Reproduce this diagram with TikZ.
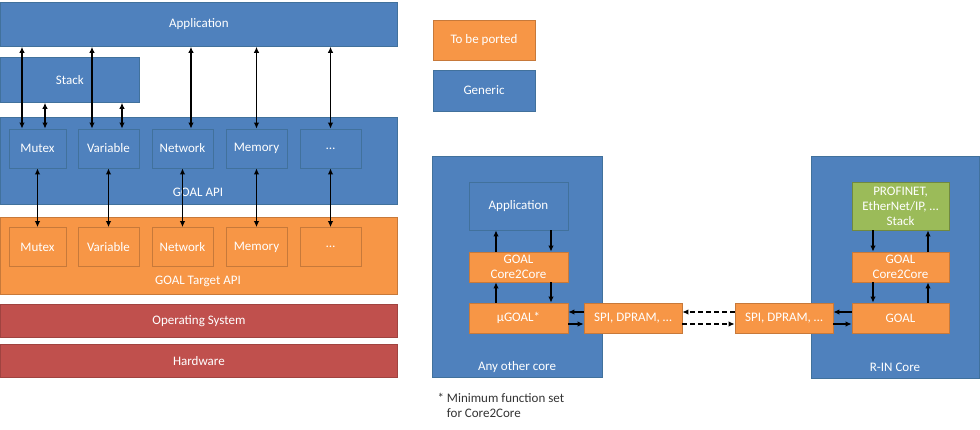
\documentclass[tikz,border=0pt]{standalone}
\usepackage{fontspec}
\setmainfont{Carlito}
\usetikzlibrary{arrows.meta,positioning}

\definecolor{goalblue}{HTML}{4F81BD}
\definecolor{goaledge}{HTML}{41719C}
\definecolor{portorange}{HTML}{F79646}
\definecolor{portedge}{HTML}{C7793A}
\definecolor{sysred}{HTML}{C0504D}
\definecolor{sysedge}{HTML}{A04340}
\definecolor{stackgreen}{HTML}{9BBB59}
\definecolor{stackedge}{HTML}{71893F}

\begin{document}
\begin{tikzpicture}[x=1pt, y=-1pt, node distance=74pt,
                    font=\fontsize{13}{15}\selectfont,
                    box/.style={rectangle, draw, line width=0.8pt, text=white, inner sep=0pt, align=center},
                    generic/.style={box, fill=goalblue, draw=goaledge},
                    ported/.style={box, fill=portorange, draw=portedge},
                    system/.style={box, fill=sysred, draw=sysedge},
                    protocol/.style={box, fill=stackgreen, draw=stackedge},
                    inner/.style={minimum width=61pt, minimum height=39pt},
                    stage/.style={minimum width=99pt, minimum height=30pt},
                    link/.style={{Latex[length=6pt,width=5.5pt]}-{Latex[length=6pt,width=5.5pt]}, line width=1.5pt},
                    flow/.style={-{Latex[length=6pt,width=5.5pt]}, line width=1.5pt},
                    wire/.style={flow, dash pattern=on 5pt off 3pt}]
  \useasboundingbox (0,0) rectangle (980,429);
  % generic layers
  \node[generic, anchor=north west, minimum width=397pt, minimum height=44pt] (app) at (0,2) {Application};
  \node[generic, anchor=north west, minimum width=139pt, minimum height=45pt] (stack) at (0,57) {Stack};
  \node[generic, anchor=north west, minimum width=397pt, minimum height=87pt] (api) at (0,117) {};
  \node[text=white] (apilabel) at (198,192) {GOAL API};
  \node[generic, inner, minimum width=57pt] (mutex) at (37.5,148.5) {Mutex};
  \node[generic, inner, right of=mutex, node distance=71pt] (variable) {Variable};
  \node[generic, inner, right of=variable] (network) {Network};
  \node[generic, inner, right of=network] (memory) {Memory};
  \node[generic, inner, right of=memory] (more) {…};
  % target layers
  \node[ported, anchor=north west, minimum width=397pt, minimum height=77pt] (target) at (0,217) {};
  \node[text=white] (targetlabel) at (198,281) {GOAL Target API};
  \node[ported, inner, minimum width=57pt] (tmutex) at (37.5,247) {Mutex};
  \node[ported, inner, right of=tmutex, node distance=71pt] (tvariable) {Variable};
  \node[ported, inner, right of=tvariable] (tnetwork) {Network};
  \node[ported, inner, right of=tnetwork] (tmemory) {Memory};
  \node[ported, inner, right of=tmemory] (tmore) {…};
  \node[system, anchor=north west, minimum width=397pt, minimum height=33pt] (os) at (0,304) {Operating System};
  \node[system, anchor=north west, minimum width=397pt, minimum height=33pt] (hw) at (0,344) {Hardware};

  \draw[link] ([xshift=-15.5pt]mutex.north) -- ([xshift=-15.5pt]mutex.north |- app.south);
  \draw[link] ([xshift=7.5pt]mutex.north) -- ([xshift=7.5pt]mutex.north |- stack.south);
  \draw[link] ([xshift=-16.5pt]variable.north) -- ([xshift=-16.5pt]variable.north |- app.south);
  \draw[link] ([xshift=13.5pt]variable.north) -- ([xshift=13.5pt]variable.north |- stack.south);
  \draw[link] ([xshift=8.5pt]network.north) -- ([xshift=8.5pt]network.north |- app.south);
  \draw[link] (memory.north) -- (memory.north |- app.south);
  \draw[link] (more.north) -- (more.north |- app.south);
  \draw[link] (mutex.south) -- (tmutex.north);
  \draw[link] (variable.south) -- (tvariable.north);
  \draw[link] (network.south) -- (tnetwork.north);
  \draw[link] (memory.south) -- (tmemory.north);
  \draw[link] (more.south) -- (tmore.north);

  % legend
  \node[ported, minimum width=102pt, minimum height=40pt] (legport) at (484,40) {To be ported};
  \node[generic, minimum width=102pt, minimum height=41pt] (leggen) at (484,90.5) {Generic};

  % core to core
  \node[generic, minimum width=170pt, minimum height=221pt] (other) at (517,266.5) {};
  \node[text=white] (otherlabel) at (517,367) {Any other core};
  \node[generic, minimum width=99pt, minimum height=48pt] (capp) at (518.5,206) {Application};
  \node[ported, stage] (cc2c) at (518.5,267) {GOAL\\Core2Core};
  \node[ported, stage] (ugoal) at (518.5,318) {µGOAL*};
  \node[ported, stage, minimum width=98pt, right of=ugoal, node distance=114.5pt] (spia) {SPI, DPRAM, …};

  \node[generic, minimum width=168pt, minimum height=222pt] (rin) at (895,267) {};
  \node[text=white] (rinlabel) at (895,367) {R-IN Core};
  \node[protocol, minimum width=97pt, minimum height=48pt] (pstack) at (900.5,206) {PROFINET,\\EtherNet/IP, …\\Stack};
  \node[ported, stage, minimum width=97pt] (rc2c) at (900.5,267) {GOAL\\Core2Core};
  \node[ported, stage, minimum width=97pt] (goal) at (900.5,318) {GOAL};
  \node[ported, stage, minimum width=98pt, left of=goal, node distance=116.5pt] (spib) {SPI, DPRAM, …};

  \draw[flow] ([xshift=-22.5pt]cc2c.north) -- ([xshift=-22.5pt]capp.south);
  \draw[flow] ([xshift=32.5pt]capp.south) -- ([xshift=32.5pt]cc2c.north);
  \draw[flow] ([xshift=-22.5pt]ugoal.north) -- ([xshift=-22.5pt]cc2c.south);
  \draw[flow] ([xshift=32.5pt]cc2c.south) -- ([xshift=32.5pt]ugoal.north);
  \draw[flow] ([yshift=6pt]spia.west) -- ([yshift=6pt]ugoal.east);
  \draw[flow] ([yshift=-6pt]ugoal.east) -- ([yshift=-6pt]spia.west);
  \draw[wire] ([yshift=6pt]spib.west) -- ([yshift=6pt]spia.east);
  \draw[wire] ([yshift=-6pt]spia.east) -- ([yshift=-6pt]spib.west);
  \draw[flow] ([yshift=6pt]goal.west) -- ([yshift=6pt]spib.east);
  \draw[flow] ([yshift=-6pt]spib.east) -- ([yshift=-6pt]goal.west);
  \draw[flow] ([xshift=-27.5pt]pstack.south) -- ([xshift=-27.5pt]rc2c.north);
  \draw[flow] ([xshift=27.5pt]rc2c.north) -- ([xshift=27.5pt]pstack.south);
  \draw[flow] ([xshift=-27.5pt]rc2c.south) -- ([xshift=-27.5pt]goal.north);
  \draw[flow] ([xshift=27.5pt]goal.north) -- ([xshift=27.5pt]rc2c.south);

  \node[anchor=north west, align=left, text=black!80] (note) at (434,390) {* Minimum function set\\\hphantom{* }for Core2Core};
\end{tikzpicture}
\end{document}
